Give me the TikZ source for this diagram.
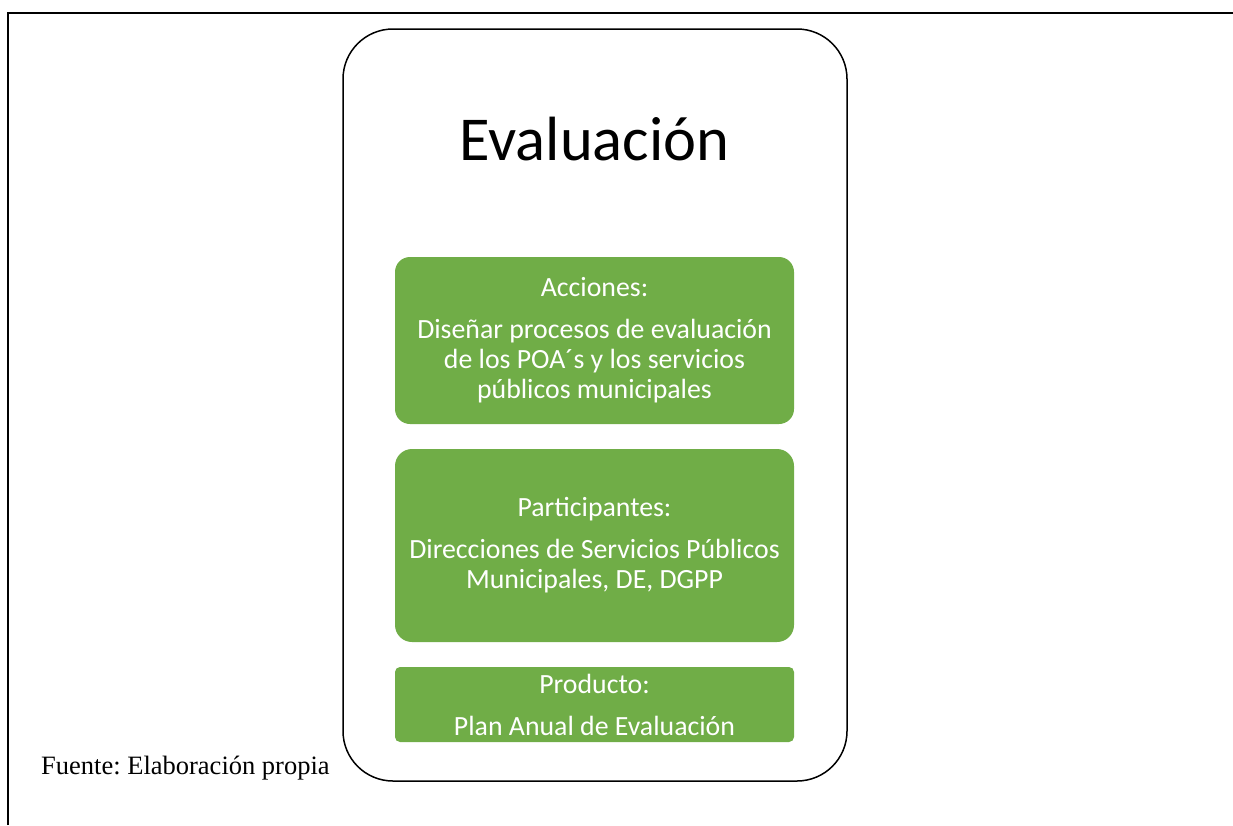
\documentclass[tikz,border=0pt]{standalone}
\usepackage{fontspec}
\setmainfont{Carlito}
\newfontfamily\timesf{Liberation Serif}
\frenchspacing
\definecolor{boxgreen}{HTML}{70AD47}
\tikzset{
  greenbox/.style={fill=boxgreen, draw=none, text=white, align=center, inner sep=0pt,
    minimum width=399pt, font=\fontsize{27.8}{30}\selectfont},
  outerbox/.style={draw=black, line width=1.5pt, rounded corners=50pt, minimum width=504pt, minimum height=752pt, inner sep=0pt},
  frameline/.style={draw=black, line width=2.5pt},
}
\begin{document}
\begin{tikzpicture}[x=1pt,y=-1pt]
\useasboundingbox (0,0) rectangle (1233,825);
\coordinate (fa) at (8.2,825);
\coordinate (fb) at (8.2,13);
\coordinate (fc) at (1240,13);
\draw[frameline] (fa) -- (fb) -- (fc);
\node[outerbox] (outer) at (595,405) {};
\node[anchor=base, font=\fontsize{62.5}{70}\selectfont] (title) at (594.5,160) {Evaluación};
\node[greenbox, rounded corners=15pt, minimum height=167pt] (acc) at (594.5,340.5)
  {Acciones:\\[12pt]Diseñar procesos de evaluación\\de los POA´s y los servicios\\públicos municipales};
\node[greenbox, rounded corners=17pt, minimum height=193pt] (par) at (594.5,545.5)
  {Participantes:\\[12pt]Direcciones de Servicios Públicos\\Municipales, DE, DGPP};
\node[greenbox, rounded corners=5pt, minimum height=75pt] (prod) at (594.5,704.5)
  {Producto:\\[12pt]Plan Anual de Evaluación};
\node[anchor=base west, inner sep=0pt, font=\timesf\fontsize{26.5}{30}\selectfont] (src) at (41,774) {Fuente: Elaboración propia};
\end{tikzpicture}
\end{document}
